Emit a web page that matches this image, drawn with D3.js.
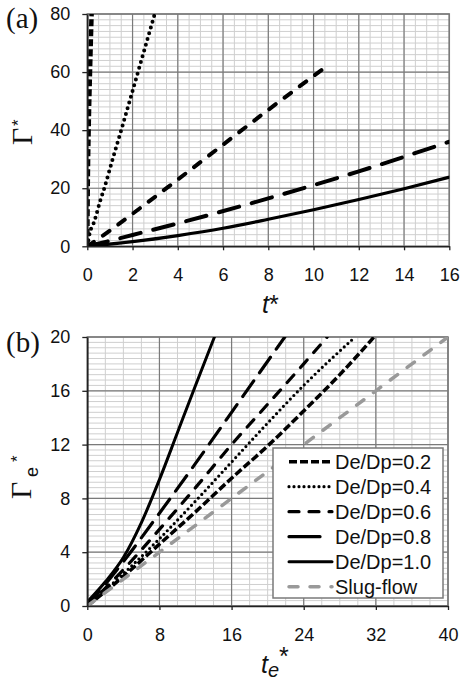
<!DOCTYPE html>
<html>
<head>
<meta charset="utf-8">
<script src="https://cdn.jsdelivr.net/npm/d3@7"></script>
<style>
  body { margin: 0; background: #fff; }
  svg { display: block; }
  text { font-family: Arial, "Liberation Sans", sans-serif; fill: #111; }
  .serif { font-family: "Times New Roman", "Liberation Serif", serif; }
</style>
</head>
<body>
<svg id="chart" width="460" height="689"></svg>
<script>
// series names
const seriesNames = ["De/Dp=0.2", "De/Dp=0.4", "De/Dp=0.6", "De/Dp=0.8", "De/Dp=1.0", "Slug-flow"]

// panel (a): [t*, Γ*]
const a02 = [[0, 0], [0.02, 20], [0.06, 40], [0.12, 60], [0.19, 80]]
const a04 = [[0, 0], [0.12, 5], [0.27, 7.7], [0.38, 10.4], [0.56, 15.4], [0.75, 20], [1.12, 30], [1.5, 40], [1.87, 50], [2.24, 60], [2.61, 70], [2.98, 80]]
const a06 = [[0, 0], [1, 5.4], [2, 11.2], [4, 23], [6, 35], [8, 47], [10.5, 61.5]]
const a08 = [[0, 0], [1, 1.9], [2, 3.9], [4, 7.9], [8, 16.5], [12, 25.8], [16, 36]]
const a10 = [[0, 0], [2, 1.6], [4, 3.7], [6, 6.2], [8, 9.3], [10, 12.6], [12, 16.1], [14, 19.8], [16, 23.8]]

// panel (b): [te*, Γe*]
const b02 = [[0, 0], [4, 2.2], [8, 4.6], [12, 7.0], [16, 9.5], [20, 11.9], [24, 14.5], [28, 17.2], [31.8, 20]]
const b04 = [[0, 0], [4, 2.4], [8, 5], [12, 7.8], [16, 10.7], [20, 13.6], [24, 16.4], [29.7, 20]]
const b06 = [[0, 0], [4, 2.7], [8, 5.7], [12, 8.8], [16, 12], [20, 15], [24, 18], [26.6, 20]]
const b08 = [[0, 0], [4, 3.3], [8, 6.9], [12, 10.6], [16, 14.4], [20, 18.2], [21.9, 20]]
const b10 = [[0, 0.3], [2, 1.8], [4, 3.6], [6, 6.2], [8, 9.4], [10, 12.9], [12, 16.4], [14.1, 20]]
const bSlug = [[0, 0], [40, 20]]

// ticks
const aXTicks = [0, 2, 4, 6, 8, 10, 12, 14, 16]
const aYTicks = [0, 20, 40, 60, 80]
const bXTicks = [0, 8, 16, 24, 32, 40]
const bYTicks = [0, 4, 8, 12, 16, 20]

// line styles, per series index
const styleA = [
  { dash: "7,3", cap: "butt", w: 4.5, color: "#000" },
  { dash: "0,6", cap: "round", w: 4, color: "#000" },
  { dash: "8,11", cap: "round", w: 4, color: "#000" },
  { dash: "21,13", cap: "round", w: 4, color: "#000" },
  { dash: null, cap: "round", w: 3.2, color: "#000" }
]
const styleB = [
  { dash: "8,3", cap: "butt", w: 3.5, color: "#000" },
  { dash: "0,5", cap: "round", w: 3.2, color: "#000" },
  { dash: "10,10", cap: "round", w: 3.2, color: "#000" },
  { dash: "19,10", cap: "round", w: 3.2, color: "#000" },
  { dash: null, cap: "round", w: 3, color: "#000" },
  { dash: "9,12", cap: "round", w: 3.5, color: "#999" }
]

const svg = d3.select("#chart")

function drawPanel(p) {
  const x = d3.scaleLinear().domain(p.xDomain).range([p.left, p.right])
  const y = d3.scaleLinear().domain(p.yDomain).range([p.bottom, p.top])
  const g = svg.append("g")

  g.append("clipPath").attr("id", "clip-" + p.id)
    .append("rect")
    .attr("x", p.left).attr("y", p.top)
    .attr("width", p.right - p.left).attr("height", p.bottom - p.top)

  const minorX = d3.range(p.xDomain[0], p.xDomain[1] + 1e-9, p.xMinor)
  const minorY = d3.range(p.yDomain[0], p.yDomain[1] + 1e-9, p.yMinor)

  const grid = g.append("g")
  grid.selectAll("line.mx").data(minorX).join("line").attr("class", "mx")
      .attr("x1", d => x(d)).attr("x2", d => x(d))
      .attr("y1", p.top).attr("y2", p.bottom)
      .attr("stroke", "#cfcfcf").attr("stroke-width", 1)
  grid.selectAll("line.my").data(minorY).join("line").attr("class", "my")
      .attr("x1", p.left).attr("x2", p.right)
      .attr("y1", d => y(d)).attr("y2", d => y(d))
      .attr("stroke", "#cfcfcf").attr("stroke-width", 1)
  grid.selectAll("line.Mx").data(p.xTicks).join("line").attr("class", "Mx")
      .attr("x1", d => x(d)).attr("x2", d => x(d))
      .attr("y1", p.top).attr("y2", p.bottom)
      .attr("stroke", "#7a7a7a").attr("stroke-width", 1.2)
  grid.selectAll("line.My").data(p.yTicks).join("line").attr("class", "My")
      .attr("x1", p.left).attr("x2", p.right)
      .attr("y1", d => y(d)).attr("y2", d => y(d))
      .attr("stroke", "#7a7a7a").attr("stroke-width", 1.2)

  g.append("rect")
    .attr("x", p.left).attr("y", p.top)
    .attr("width", p.right - p.left).attr("height", p.bottom - p.top)
    .attr("fill", "none").attr("stroke", "#7a7a7a").attr("stroke-width", 1.5)

  const line = d3.line()
      .x(d => x(d[0]))
      .y(d => y(d[1]))
      .curve(d3.curveMonotoneX)

  g.append("g").attr("clip-path", `url(#clip-${p.id})`)
    .selectAll("path")
    .data(p.series)
    .join("path")
    .attr("d", d => line(d))
    .attr("fill", "none")
    .attr("stroke", (d, i) => p.styles[i].color)
    .attr("stroke-width", (d, i) => p.styles[i].w)
    .attr("stroke-linecap", (d, i) => p.styles[i].cap)
    .attr("stroke-linejoin", "round")
    .attr("stroke-dasharray", (d, i) => p.styles[i].dash)

  const xAxis = g.append("g")
      .attr("transform", `translate(0,${p.bottom})`)
      .call(d3.axisBottom(x).tickValues(p.xTicks).tickSize(4).tickSizeOuter(0).tickPadding(18))
  const yAxis = g.append("g")
      .attr("transform", `translate(${p.left},0)`)
      .call(d3.axisLeft(y).tickValues(p.yTicks).tickSize(5).tickSizeOuter(0).tickPadding(12))

  for (const ax of [xAxis, yAxis]) {
    ax.attr("font-family", null).attr("font-size", null)
    ax.select(".domain").attr("stroke", "#222").attr("stroke-width", 1.6)
    ax.selectAll(".tick line").attr("stroke", "#222").attr("stroke-width", 1.3)
    ax.selectAll(".tick text").attr("fill", "#111").style("font-size", "18px")
  }
  return g
}

drawPanel({
  id: "a",
  xDomain: [0, 16], yDomain: [0, 80],
  left: 87.3, right: 449.3, top: 14, bottom: 246.3,
  xMinor: 0.5, yMinor: 2,
  xTicks: aXTicks, yTicks: aYTicks,
  series: [a02, a04, a06, a08, a10],
  styles: styleA
})

drawPanel({
  id: "b",
  xDomain: [0, 40], yDomain: [0, 20],
  left: 87.3, right: 448, top: 337, bottom: 606,
  xMinor: 2, yMinor: 0.4,
  xTicks: bXTicks, yTicks: bYTicks,
  series: [b02, b04, b06, b08, b10, bSlug],
  styles: styleB
})

// panel letters
svg.append("text").attr("class", "serif").attr("x", 6).attr("y", 28)
   .style("font-size", "29px").text("(a)")
svg.append("text").attr("class", "serif").attr("x", 6).attr("y", 352)
   .style("font-size", "29px").text("(b)")

// x titles
const ta = svg.append("text").attr("x", 262).attr("y", 313).style("font-size", "25px")
ta.append("tspan").attr("font-style", "italic").text("t")
ta.append("tspan").text("*")

const tb = svg.append("text").attr("x", 261).attr("y", 673).style("font-size", "25px")
tb.append("tspan").attr("font-style", "italic").text("t")
tb.append("tspan").attr("font-style", "italic").style("font-size", "20px").attr("dy", 4).text("e")
tb.append("tspan").attr("dy", -12).text("*")

// y titles (rotated)
const ga = svg.append("g").attr("transform", "translate(32,145) rotate(-90)")
ga.append("text").attr("class", "serif").style("font-size", "30px").text("Γ")
ga.append("text").attr("x", 19).attr("y", -8).style("font-size", "17px").text("*")

const gb = svg.append("g").attr("transform", "translate(31,499) rotate(-90)")
gb.append("text").attr("class", "serif").style("font-size", "30px").text("Γ")
gb.append("text").attr("x", 22).attr("y", 7).style("font-size", "18px").text("e")
gb.append("text").attr("x", 37).attr("y", -8).style("font-size", "17px").text("*")

// legend
const legend = svg.append("g")
legend.append("rect")
  .attr("x", 273).attr("y", 448).attr("width", 170).attr("height", 150)
  .attr("fill", "#fff").attr("stroke", "#7a7a7a").attr("stroke-width", 1.5)

const rowY = d3.scalePoint().domain(seriesNames).range([461.7, 586.7])
const rows = legend.selectAll("g.row").data(seriesNames).join("g").attr("class", "row")
    .attr("transform", d => `translate(0,${rowY(d)})`)
rows.append("line")
    .attr("x1", 289).attr("x2", (d, i) => i === 3 ? 320 : 332)
    .attr("y1", 0).attr("y2", 0)
    .attr("stroke", (d, i) => styleB[i].color)
    .attr("stroke-width", (d, i) => styleB[i].w)
    .attr("stroke-linecap", (d, i) => styleB[i].cap)
    .attr("stroke-dasharray", (d, i) => i === 3 ? null : styleB[i].dash)
rows.append("text")
    .attr("x", 335).attr("y", 0).attr("dy", "0.36em")
    .style("font-size", "20px")
    .text(d => d)
</script>
</body>
</html>
